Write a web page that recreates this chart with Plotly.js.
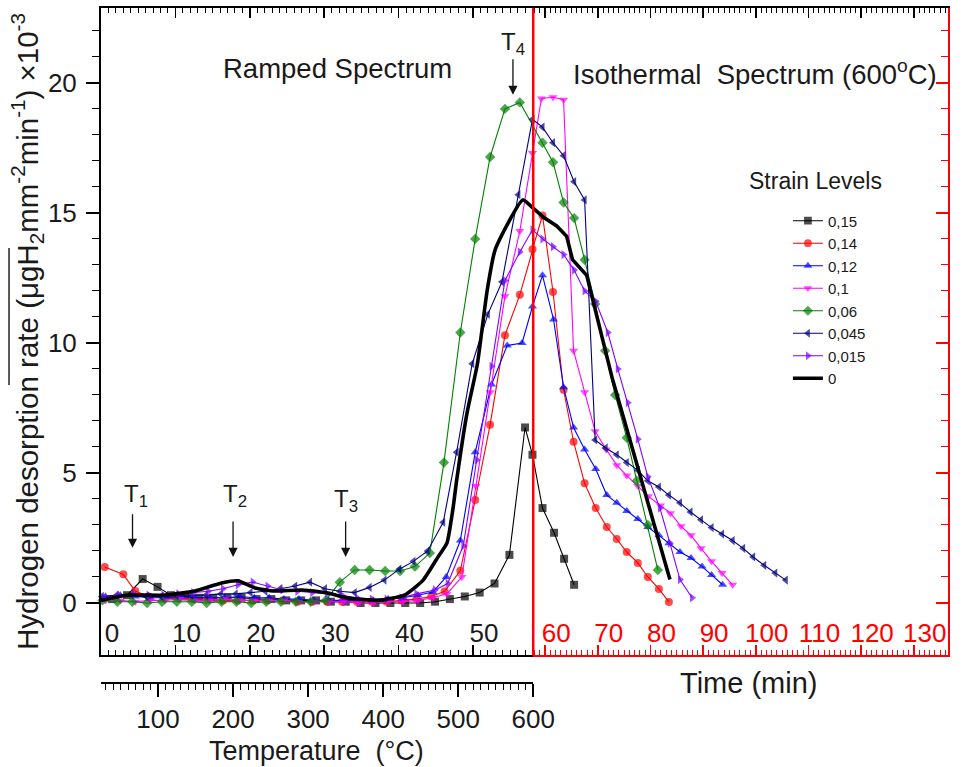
<!DOCTYPE html>
<html><head><meta charset="utf-8">
<script src="https://cdn.plot.ly/plotly-3.0.1.min.js"></script>
<style>html,body{margin:0;padding:0;background:#fff}#chart{width:964px;height:767px}</style>
</head><body><div id="chart"></div>
<script>
// ---------------- DATA ----------------
// Ramped part: time (min) 0..58 ; Isothermal part: time (min) after 58
const tR_015 = [1.5, 3.5, 5.6, 7.6, 9.4, 11.3, 13.2, 15.1, 17.0, 18.9, 20.9, 22.9, 24.9, 26.9, 28.9, 30.9, 32.9, 34.9, 36.9, 38.9, 40.9, 42.9, 44.9, 46.9, 48.9, 50.9, 52.9, 54.9, 57.0, 58.0];
const vR_015 = [0.15, 0.3, 0.92, 0.62, 0.3, 0.25, 0.2, 0.2, 0.2, 0.2, 0.15, 0.15, 0.1, 0.1, 0.1, 0.05, 0.05, 0.0, 0.0, 0.0, 0.0, 0.0, 0.05, 0.15, 0.25, 0.4, 0.75, 1.85, 6.75, 5.7];
const tI_015 = [59.5, 61.7, 63.6, 65.5];
const vI_015 = [3.65, 2.7, 1.7, 0.7];

const tR_014 = [0.5, 3.0, 4.6, 6.4, 8.4, 10.4, 12.4, 14.4, 16.4, 18.4, 20.4, 22.4, 24.4, 26.4, 28.4, 30.4, 32.4, 34.4, 36.4, 38.4, 40.4, 42.4, 44.4, 46.2, 48.3, 50.3, 52.3, 54.3, 56.3, 58.0];
const vR_014 = [1.38, 1.1, 0.46, 0.25, 0.2, 0.2, 0.15, 0.15, 0.1, 0.1, 0.1, 0.1, 0.1, 0.05, 0.05, 0.05, 0.05, 0.05, 0.05, 0.05, 0.1, 0.15, 0.25, 0.45, 1.24, 3.96, 6.85, 10.3, 11.85, 13.6];
const tI_014 = [59.5, 61.5, 63.5, 65.4, 67.5, 69.6, 71.7, 73.6, 75.5, 77.6, 79.5, 81.6, 83.5];
const vI_014 = [14.9, 11.96, 8.2, 6.2, 4.6, 3.65, 2.92, 2.46, 1.96, 1.54, 1.0, 0.54, 0.04];

const tR_012 = [0.6, 2.6, 4.6, 6.6, 8.6, 10.6, 12.6, 14.6, 16.6, 18.6, 20.6, 22.6, 24.6, 26.6, 28.6, 30.6, 32.6, 34.6, 36.6, 38.6, 40.6, 42.6, 44.6, 46.4, 48.3, 50.3, 52.5, 54.6, 56.6, 58.0];
const vR_012 = [0.25, 0.3, 0.25, 0.2, 0.2, 0.25, 0.2, 0.2, 0.2, 0.25, 0.2, 0.2, 0.15, 0.15, 0.1, 0.1, 0.1, 0.1, 0.1, 0.15, 0.2, 0.3, 0.42, 1.0, 2.4, 5.8, 8.4, 9.9, 10.0, 11.4];
const tI_012 = [59.5, 61.6, 63.5, 65.4, 67.5, 69.6, 71.7, 73.6, 75.5, 77.6, 79.5, 81.6, 83.5, 85.6, 87.7, 89.8, 91.6, 93.7];
const vI_012 = [12.6, 10.9, 8.3, 6.75, 5.9, 5.15, 4.15, 3.85, 3.54, 3.23, 2.92, 2.6, 2.3, 1.96, 1.73, 1.4, 1.08, 0.7];

const tR_01 = [0.6, 2.6, 4.6, 6.6, 8.6, 10.6, 12.6, 14.6, 16.6, 18.6, 20.6, 22.6, 24.6, 26.6, 28.6, 30.6, 32.6, 34.6, 36.6, 38.6, 40.6, 42.6, 44.6, 46.5, 48.5, 50.4, 52.3, 54.3, 56.3, 58.0];
const vR_01 = [0.1, 0.1, 0.05, 0.1, 0.1, 0.15, 0.1, 0.1, 0.15, 0.1, 0.1, 0.1, 0.1, 0.05, 0.05, 0.05, 0.05, 0.0, 0.0, 0.05, 0.05, 0.1, 0.2, 0.35, 1.0, 4.5, 8.1, 11.8, 14.3, 17.3];
const tI_01 = [59.3, 61.5, 63.5, 65.4, 67.5, 69.5, 71.6, 73.6, 75.5, 77.6, 79.6, 81.9, 83.8, 85.8, 87.7, 89.6, 91.6, 93.6, 95.6];
const vI_01 = [19.4, 19.45, 19.35, 9.7, 8.1, 6.6, 5.9, 5.3, 4.9, 4.5, 4.1, 3.75, 3.45, 2.95, 2.6, 2.1, 1.6, 1.15, 0.7];

const tR_006 = [0.2, 2.2, 4.2, 6.2, 8.2, 10.2, 12.2, 14.2, 16.2, 18.2, 20.2, 22.2, 24.2, 26.2, 28.2, 30.2, 32.1, 34.1, 36.1, 38.2, 40.2, 42.2, 44.2, 46.1, 48.3, 50.3, 52.3, 54.3, 56.3];
const vR_006 = [0.1, 0.05, 0.05, 0.0, 0.05, 0.05, 0.05, 0.0, 0.05, 0.05, 0.0, 0.05, 0.05, 0.05, 0.05, 0.1, 0.8, 1.27, 1.27, 1.23, 1.23, 1.4, 1.92, 5.4, 10.4, 14.0, 17.15, 19.0, 19.25];
const tI_006 = [59.5, 61.5, 63.5, 65.5, 67.5, 69.5, 71.4, 73.3, 75.5, 77.4, 79.5, 81.4];
const vI_006 = [17.7, 16.95, 15.4, 14.8, 13.2, 11.5, 9.7, 8.0, 6.35, 4.7, 3.0, 1.27];

const tR_0045 = [0.1, 2.1, 4.1, 6.1, 8.1, 10.1, 12.1, 14.1, 16.1, 18.1, 20.1, 22.1, 24.1, 26.1, 28.1, 30.1, 32.1, 34.1, 36.1, 38.1, 40.1, 42.0, 43.9, 46.0, 47.8, 49.9, 52.0, 53.9, 56.1, 58.0];
const vR_0045 = [0.25, 0.3, 0.3, 0.25, 0.25, 0.3, 0.3, 0.3, 0.35, 0.35, 0.4, 0.45, 0.55, 0.65, 0.8, 0.55, 0.45, 0.4, 0.6, 0.88, 1.3, 1.6, 2.0, 3.1, 5.8, 9.2, 11.1, 12.35, 15.7, 18.6];
const tI_0045 = [59.5, 61.5, 63.5, 65.5, 67.5, 69.5, 71.5, 73.6, 75.5, 77.6, 79.5, 81.6, 83.5, 85.6, 87.6, 89.6, 91.6, 93.6, 95.6, 97.6, 99.5, 101.6, 103.7, 105.7];
const vI_0045 = [18.3, 17.7, 17.2, 16.2, 15.5, 6.27, 5.96, 5.7, 5.4, 5.1, 4.7, 4.46, 4.15, 3.85, 3.5, 3.2, 2.9, 2.65, 2.4, 2.1, 1.77, 1.45, 1.15, 0.88];

const tR_0015 = [0.4, 2.4, 4.4, 6.4, 8.4, 10.4, 12.4, 14.4, 16.4, 18.4, 20.4, 22.4, 24.4, 26.4, 28.4, 30.4, 32.4, 34.4, 36.4, 38.4, 40.4, 42.4, 44.9, 46.6, 48.7, 50.5, 52.5, 54.3, 56.3, 58.0];
const vR_0015 = [0.2, 0.3, 0.35, 0.3, 0.3, 0.35, 0.4, 0.45, 0.55, 0.7, 0.8, 0.65, 0.5, 0.45, 0.4, 0.35, 0.3, 0.2, 0.15, 0.15, 0.2, 0.35, 0.5, 0.75, 2.2, 5.5, 9.1, 12.4, 13.5, 14.35];
const tI_0015 = [59.5, 61.5, 63.5, 65.5, 67.5, 69.6, 71.9, 73.8, 75.7, 77.6, 79.5, 81.8, 83.7, 85.6, 87.9];
const vI_0015 = [14.0, 13.7, 13.4, 12.8, 12.0, 11.6, 10.4, 9.0, 7.7, 6.3, 4.85, 3.65, 2.3, 0.9, 0.2];

const tR_0 = [0, 3.4, 8.5, 12.6, 16.2, 18.4, 20.7, 23.3, 27.0, 30.5, 33.2, 37.2, 40.8, 43.3, 45.3, 46.5, 47.3, 47.8, 49.2, 50.6, 51.9, 53.0, 56.7, 58.0];
const vR_0 = [0.1, 0.3, 0.3, 0.46, 0.77, 0.85, 0.58, 0.46, 0.5, 0.38, 0.19, 0.1, 0.3, 0.88, 1.77, 2.3, 3.6, 4.7, 7.3, 9.2, 12.0, 13.6, 15.5, 15.2];
const tI_0 = [59.9, 62.2, 64.1, 65.2, 67.1, 67.9, 72.8, 79.9, 83.7];
const vI_0 = [14.8, 14.5, 14.1, 13.2, 12.8, 12.6, 8.6, 3.6, 0.9];

const legendLabels = ['0,15', '0,14', '0,12', '0,1', '0,06', '0,045', '0,015', '0'];
const timeTicksRamp = [0, 10, 20, 30, 40, 50];
const tempTickLabels = [100, 200, 300, 400, 500, 600];
const arrowTemps = [66, 200, 350, 573];        // T1..T4 (deg C)

// ---------------- AXIS GEOMETRY ----------------
const X_RANGE = [0, 58.1];
const X2_RANGE = [57.74, 136.5];
const TEMP_RANGE = [24, 600];
const Y_RANGE = [-2, 22.88];
const SPLIT = 0.5103;
const DOM1 = [0, SPLIT], DOM2 = [SPLIT, 1];
const YDOM = [0.0415, 1];

function isoToRamp(t) {
  const f = DOM2[0] + (t - X2_RANGE[0]) / (X2_RANGE[1] - X2_RANGE[0]) * (DOM2[1] - DOM2[0]);
  return X_RANGE[0] + (f - DOM1[0]) / (DOM1[1] - DOM1[0]) * (X_RANGE[1] - X_RANGE[0]);
}
function rampToIso(t) {
  const f = DOM1[0] + (t - X_RANGE[0]) / (X_RANGE[1] - X_RANGE[0]) * (DOM1[1] - DOM1[0]);
  return X2_RANGE[0] + (f - DOM2[0]) / (DOM2[1] - DOM2[0]) * (X2_RANGE[1] - X2_RANGE[0]);
}

// ---------------- STYLES ----------------
const styles = [
  {color: '#000000', symbol: 'square', width: 1.1},
  {color: '#ff0000', symbol: 'circle', width: 1.1},
  {color: '#0000ff', symbol: 'triangle-up', width: 1.1},
  {color: '#ff00ff', symbol: 'triangle-down', width: 1.1},
  {color: '#008000', symbol: 'diamond', width: 1.1},
  {color: '#000080', symbol: 'triangle-left', width: 1.1},
  {color: '#8000ff', symbol: 'triangle-right', width: 1.1},
  {color: '#000000', symbol: null, width: 3.6}
];
const seriesData = [
  [tR_015, vR_015, tI_015, vI_015],
  [tR_014, vR_014, tI_014, vI_014],
  [tR_012, vR_012, tI_012, vI_012],
  [tR_01, vR_01, tI_01, vI_01],
  [tR_006, vR_006, tI_006, vI_006],
  [tR_0045, vR_0045, tI_0045, vI_0045],
  [tR_0015, vR_0015, tI_0015, vI_0015],
  [tR_0, vR_0, tI_0, vI_0]
];

const MS = 8;
const traces = [];
seriesData.forEach((d, i) => {
  const [tR, vR, tI, vI] = d;
  const st = styles[i];
  const hasM = !!st.symbol;
  const n = tR.length, m = tI.length;
  const base = {
    mode: hasM ? 'lines+markers' : 'lines',
    line: {color: st.color, width: st.width, shape: hasM ? 'linear' : 'spline', smoothing: 0.5},
    cliponaxis: false, hoverinfo: 'skip', legendrank: i + 1
  };
  const ramp = Object.assign({}, base, {
    x: tR.concat([isoToRamp(tI[0])]), y: vR.concat([vI[0]]),
    xaxis: 'x', yaxis: 'y', name: legendLabels[i], showlegend: true
  });
  const iso = Object.assign({}, base, {
    x: [rampToIso(tR[n - 1])].concat(tI), y: [vR[n - 1]].concat(vI),
    xaxis: 'x2', yaxis: 'y', name: legendLabels[i], showlegend: false,
    line: {color: st.color, width: st.width, shape: 'linear'}
  });
  if (hasM) {
    ramp.marker = {symbol: st.symbol, color: st.color, size: Array(n).fill(MS).concat([0]), line: {width: 0}};
    iso.marker = {symbol: st.symbol, color: st.color, size: [0].concat(Array(m).fill(MS)), line: {width: 0}};
  }
  traces.push(ramp);
  traces.push(iso);
});
// helper traces so the extra axes exist
traces.push({x: [], y: [], xaxis: 'x3', yaxis: 'y', showlegend: false, hoverinfo: 'skip'});
traces.push({x: [], y: [], xaxis: 'x4', yaxis: 'y', showlegend: false, hoverinfo: 'skip'});
traces.push({x: [], y: [], xaxis: 'x2', yaxis: 'y2', showlegend: false, hoverinfo: 'skip'});

const FONT = 'Liberation Sans, Arial, sans-serif';
const TXT = '#1a1a1a';
const TF = 26;

const annotations = [
  {text: 'Ramped Spectrum', xref: 'paper', yref: 'paper', x: 0.2798, y: 0.911, xanchor: 'center', yanchor: 'middle', showarrow: false, font: {size: 27.5}},
  {text: 'Isothermal\u00A0 Spectrum (600<sup>o</sup>C)', xref: 'paper', yref: 'paper', x: 0.772, y: 0.905, xanchor: 'center', yanchor: 'middle', showarrow: false, font: {size: 27.5}},
  {text: 'Strain Levels', xref: 'paper', yref: 'paper', x: 0.844, y: 0.744, xanchor: 'center', yanchor: 'middle', showarrow: false, font: {size: 23}},
  // axis titles
  {text: 'Time (min)', xref: 'paper', yref: 'paper', x: 0.7639, y: 0.0, xanchor: 'center', yanchor: 'middle', showarrow: false, font: {size: 29}},
  {text: 'Temperature\u00A0 (°C)', xref: 'paper', yref: 'paper', x: 0.2545, y: -0.1000, xanchor: 'center', yanchor: 'middle', showarrow: false, font: {size: 27}}
];
const tLabelPos = [[71, 4.15], [202, 4.15], [350, 3.95], [573, 21.5]];
const arrowHeadY = [2.12, 1.77, 1.77, 19.54];
const arrowLen = [-35, -37, -37, -37];
for (let k = 0; k < 4; k++) {
  annotations.push({text: 'T<sub>' + (k + 1) + '</sub>', xref: 'x3', yref: 'y', x: tLabelPos[k][0], y: tLabelPos[k][1],
    xanchor: 'center', yanchor: 'middle', showarrow: false, font: {size: 24}});
  annotations.push({text: '', xref: 'x3', yref: 'y', x: arrowTemps[k], y: arrowHeadY[k], ax: 0, ay: arrowLen[k],
    showarrow: true, arrowhead: 2, arrowsize: 1.4, arrowwidth: 1.3, arrowcolor: '#111'});
}

const shapes = [
  {type: 'line', xref: 'paper', yref: 'paper', x0: SPLIT, x1: SPLIT, y0: YDOM[0], y1: 1, line: {color: '#ff0000', width: 2.5}, layer: 'above'},
  {type: 'line', xref: 'paper', yref: 'paper', x0: -0.1086, x1: -0.1086, y0: 0.4415, y1: 0.6444, line: {color: '#222', width: 1.5}}
];

const commonX = {showgrid: false, zeroline: false, automargin: false, linewidth: 2, tickwidth: 1.5};

const layout = {
  width: 964, height: 767,
  margin: {l: 101, r: 16, t: 8, b: 84, pad: 0},
  paper_bgcolor: '#ffffff', plot_bgcolor: '#ffffff',
  font: {family: FONT, color: TXT, size: 18},
  showlegend: true,
  legend: {x: 0.811, y: 0.7089, xanchor: 'left', yanchor: 'top', font: {size: 15, color: TXT},
    bgcolor: 'rgba(0,0,0,0)', borderwidth: 0, tracegroupgap: 0, itemwidth: 30},
  xaxis: Object.assign({}, commonX, {
    domain: DOM1, range: X_RANGE, anchor: 'y', side: 'bottom',
    showline: true, linecolor: '#000', mirror: 'ticks',
    ticks: 'inside', ticklen: 10, tickcolor: '#000', tickmode: 'array', tickvals: timeTicksRamp,
    minor: {dtick: 1, tick0: 0, ticks: 'inside', ticklen: 5, tickcolor: '#000', tickwidth: 1},
    ticklabelposition: 'inside', ticklabelshift: 11, tickfont: {size: TF, color: TXT}
  }),
  xaxis2: Object.assign({}, commonX, {
    domain: DOM2, range: X2_RANGE, anchor: 'y', side: 'bottom',
    showline: true, linecolor: '#ff0000',
    ticks: 'inside', ticklen: 10, tickcolor: '#ff0000', tick0: 60, dtick: 10,
    minor: {dtick: 1, tick0: 0, ticks: 'inside', ticklen: 5, tickcolor: '#ff0000', tickwidth: 1},
    ticklabelposition: 'inside', ticklabelshift: 11, tickfont: {size: TF, color: '#ff0000'}
  }),
  xaxis3: Object.assign({}, commonX, {
    overlaying: 'x', anchor: 'free', position: 0, side: 'bottom', range: TEMP_RANGE,
    showline: true, linecolor: '#000',
    ticks: 'outside', ticklen: 13, tickcolor: '#000', tickmode: 'array', tickvals: tempTickLabels,
    minor: {dtick: 10, tick0: 0, ticks: 'outside', ticklen: 6, tickcolor: '#000', tickwidth: 1},
    tickfont: {size: TF, color: TXT}
  }),
  xaxis4: Object.assign({}, commonX, {
    overlaying: 'x2', anchor: 'y', side: 'top', range: X2_RANGE,
    showline: true, linecolor: '#000',
    ticks: 'inside', ticklen: 10, tickcolor: '#000', tick0: 60, dtick: 10,
    minor: {dtick: 1, tick0: 0, ticks: 'inside', ticklen: 5, tickcolor: '#000', tickwidth: 1},
    showticklabels: false
  }),
  yaxis: {
    domain: YDOM, range: Y_RANGE, anchor: 'x', side: 'left',
    showgrid: false, zeroline: false, automargin: false,
    showline: true, linecolor: '#000', linewidth: 2,
    ticks: 'outside', ticklen: 13, tickwidth: 1.5, tickcolor: '#000', tick0: 0, dtick: 5,
    minor: {dtick: 1, tick0: 0, ticks: 'outside', ticklen: 7, tickcolor: '#000', tickwidth: 1},
    tickfont: {size: TF, color: TXT}, ticklabelstandoff: 4,
    title: {text: 'Hydrogen desorption rate (μgH<sub>2</sub>mm<sup>-2</sup>min<sup>-1</sup>) ×10<sup>-3</sup>', font: {size: 29.5, color: TXT}, standoff: 0}
  },
  yaxis2: {
    overlaying: 'y', anchor: 'x2', side: 'right', range: Y_RANGE,
    showgrid: false, zeroline: false, automargin: false,
    showline: true, linecolor: '#ff0000', linewidth: 2,
    ticks: 'inside', ticklen: 12, tickwidth: 1.5, tickcolor: '#ff0000', tick0: 0, dtick: 5,
    minor: {dtick: 1, tick0: 0, ticks: 'inside', ticklen: 7, tickcolor: '#ff0000', tickwidth: 1},
    showticklabels: false
  },
  annotations: annotations,
  shapes: shapes
};

Plotly.newPlot('chart', traces, layout, {displayModeBar: false, staticPlot: true});
</script>
</body></html>
